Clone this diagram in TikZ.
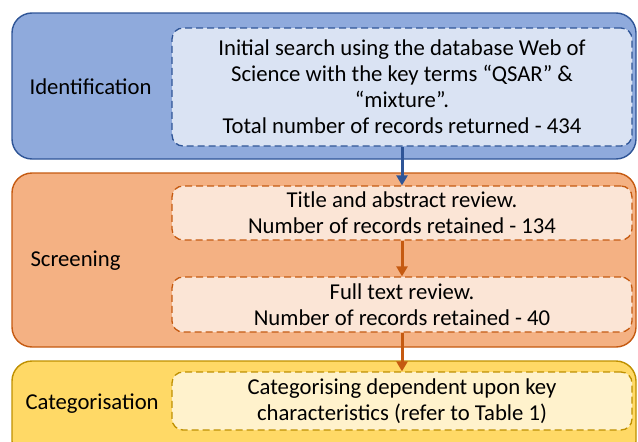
\documentclass[tikz,border=0pt]{standalone}
\usepackage{fontspec}
\setmainfont{Carlito}
\usetikzlibrary{arrows.meta}

\definecolor{idfill}{HTML}{8FAADC}
\definecolor{idline}{HTML}{2F5597}
\definecolor{idinner}{HTML}{DAE3F3}
\definecolor{scfill}{HTML}{F4B183}
\definecolor{scline}{HTML}{C55A11}
\definecolor{scinner}{HTML}{FBE5D6}
\definecolor{cafill}{HTML}{FFD966}
\definecolor{caline}{HTML}{BF9000}
\definecolor{cainner}{HTML}{FFF2CC}

\begin{document}
\begin{tikzpicture}[x=1pt,y=-1pt,
    stage/.style={draw,line width=1.4pt,rounded corners=20pt,minimum width=624pt},
    task/.style={draw,dash pattern=on 7pt off 4pt,line width=1.3pt,rounded corners=11pt,
        minimum width=460pt,align=center,font=\fontsize{22.7}{26}\selectfont},
    phase/.style={anchor=west,font=\fontsize{22.7}{26}\selectfont},
    flow/.style={line width=3pt,-{Triangle[width=11pt,length=10pt]}}]
    \clip (0,0) rectangle (638,442);

    % stages
    \node[stage,fill=idfill,draw=idline,minimum height=146pt] (I) at (324,86)  {};
    \node[stage,fill=scfill,draw=scline,minimum height=174pt] (S) at (324,260) {};
    \node[stage,fill=cafill,draw=caline,minimum height=100pt] (C) at (324,411) {};

    \node[phase] (Ilab) at (26,87)  {Identification};
    \node[phase] (Slab) at (27,261) {Screening};
    \node[phase] (Clab) at (22,404) {Categorisation};

    % tasks
    \node[task,fill=idinner,draw=idline,minimum height=118pt] (search) at (402,87)
        {Initial search using the database Web of\\Science with the key terms “QSAR” \&\\“mixture”.\\Total number of records returned - 434};
    \node[task,fill=scinner,draw=scline,minimum height=54pt] (title) at (402,213)
        {Title and abstract review.\\Number of records retained - 134};
    \node[task,fill=scinner,draw=scline,minimum height=55pt] (full) at (402,304.5)
        {Full text review.\\Number of records retained - 40};
    \node[task,fill=cainner,draw=caline,minimum height=58pt] (cat) at (402,401)
        {Categorising dependent upon key\\characteristics (refer to Table 1)};

    \draw[flow,idline] (search) -- (title);
    \draw[flow,scline] (title) -- (full);
    \draw[flow,scline] (full) -- (cat);
\end{tikzpicture}
\end{document}
